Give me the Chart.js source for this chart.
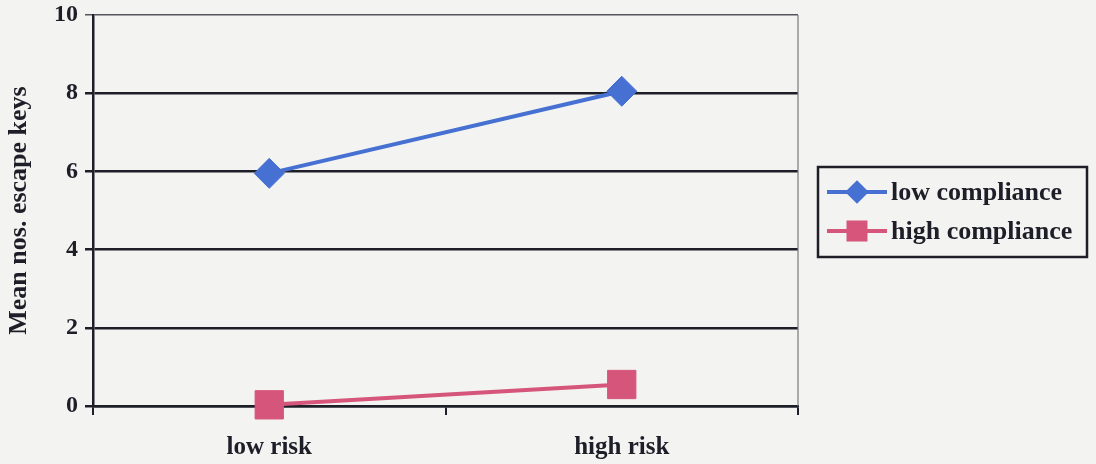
<!DOCTYPE html>
<html>
<head>
<meta charset="utf-8">
<script src="https://cdn.jsdelivr.net/npm/chart.js@4"></script>
<style>
  html, body { margin: 0; padding: 0; background: #f3f3f1; }
  #wrap { width: 1096px; height: 464px; }
</style>
</head>
<body>
<div id="wrap"><canvas id="c" width="1096" height="464"></canvas></div>
<script>
// Categories and series
const categories = ['low risk', 'high risk'];
const lowCompliance = [5.95, 8.05];
const highCompliance = [0.03, 0.55];
const seriesNames = ['low compliance', 'high compliance'];
const yTickValues = [0, 2, 4, 6, 8, 10];

const BLUE = '#4670d2';
const PINK = '#d6557a';
const INK = '#1e1e28';
const SERIF = '"Liberation Serif", "Times New Roman", serif';

// Page background behind everything
const backdrop = {
  id: 'backdrop',
  beforeDraw(chart) {
    const ctx = chart.ctx;
    ctx.save();
    ctx.fillStyle = '#f3f3f1';
    ctx.fillRect(0, 0, chart.width, chart.height);
    ctx.restore();
  }
};

// Thin frame on the right side of the plot area
const frame = {
  id: 'frame',
  beforeDatasetsDraw(chart) {
    const { ctx, chartArea: a } = chart;
    ctx.save();
    ctx.strokeStyle = '#7a7a80';
    ctx.lineWidth = 1.2;
    ctx.beginPath();
    ctx.moveTo(a.right, a.top);
    ctx.lineTo(a.right, a.bottom);
    ctx.stroke();
    ctx.restore();
  }
};

// Boxed legend to the right of the plot
const boxLegend = {
  id: 'boxLegend',
  afterDraw(chart) {
    const ctx = chart.ctx;
    const box = { x: 818, y: 167, w: 269, h: 90 };
    ctx.save();
    ctx.strokeStyle = INK;
    ctx.lineWidth = 2.5;
    ctx.strokeRect(box.x, box.y, box.w, box.h);
    const rows = [192, 231];
    chart.data.datasets.forEach((ds, i) => {
      const y = rows[i];
      ctx.strokeStyle = ds.borderColor;
      ctx.lineWidth = 4;
      ctx.beginPath();
      ctx.moveTo(827, y);
      ctx.lineTo(887, y);
      ctx.stroke();
      ctx.fillStyle = ds.backgroundColor;
      ctx.strokeStyle = ds.backgroundColor;
      Chart.helpers.drawPoint(ctx, {
        pointStyle: ds.pointStyle,
        radius: ds.pointStyle === 'rect' ? 12 : 9,
        borderWidth: 1
      }, 857, y);
      ctx.fillStyle = INK;
      ctx.font = 'bold 26px ' + SERIF;
      ctx.textAlign = 'left';
      ctx.textBaseline = 'middle';
      ctx.fillText(ds.label, 891, y + 1);
    });
    ctx.restore();
  }
};

new Chart(document.getElementById('c'), {
  type: 'line',
  data: {
    labels: categories,
    datasets: [
      {
        label: seriesNames[0],
        data: lowCompliance,
        borderColor: BLUE,
        backgroundColor: BLUE,
        borderWidth: 4,
        pointStyle: 'rectRot',
        pointRadius: 15,
        pointBorderWidth: 1,
        clip: false
      },
      {
        label: seriesNames[1],
        data: highCompliance,
        borderColor: PINK,
        backgroundColor: PINK,
        borderWidth: 4,
        pointStyle: 'rect',
        pointRadius: 20,
        pointBorderWidth: 1,
        clip: false
      }
    ]
  },
  options: {
    responsive: false,
    animation: false,
    events: [],
    layout: { autoPadding: false, padding: { top: 15, right: 298, left: 0, bottom: 0 } },
    plugins: {
      legend: { display: false },
      tooltip: { enabled: false },
      title: { display: false }
    },
    scales: {
      x: {
        offset: true,
        afterFit(scale) { scale.height = 58; },
        grid: {
          offset: true,
          drawOnChartArea: false,
          drawTicks: true,
          tickLength: 9,
          color: INK,
          lineWidth: 2
        },
        border: { display: true, color: INK, width: 2.5 },
        ticks: {
          color: INK,
          padding: 18,
          font: { family: SERIF, size: 25, weight: 'bold' }
        }
      },
      y: {
        min: 0,
        max: 10,
        afterFit(scale) {
          scale.width = 93;
          scale.paddingTop = 0;
          scale.paddingBottom = 0;
        },
        afterBuildTicks(scale) {
          scale.ticks = yTickValues.map(v => ({ value: v }));
        },
        grid: {
          drawTicks: true,
          tickLength: 8,
          color: ctx => (ctx.tick && ctx.tick.value === 10) ? '#55555c' : INK,
          lineWidth: ctx => (ctx.tick && ctx.tick.value === 10) ? 1.5 : 2.5
        },
        border: { display: true, color: INK, width: 2.5 },
        ticks: {
          color: INK,
          padding: 7,
          font: { family: SERIF, size: 24, weight: 'bold' }
        },
        title: {
          display: true,
          text: 'Mean nos. escape keys',
          color: INK,
          padding: { top: 4, bottom: 0 },
          font: { family: SERIF, size: 26, weight: 'bold' }
        }
      }
    }
  },
  plugins: [backdrop, frame, boxLegend]
});
</script>
</body>
</html>
